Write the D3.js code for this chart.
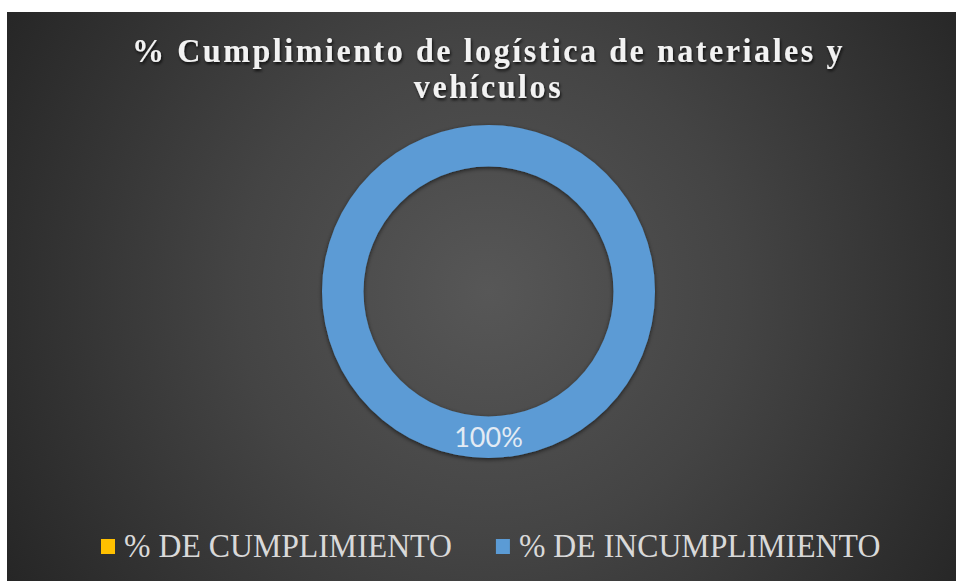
<!DOCTYPE html>
<html lang="es">
  <head>
    <meta charset="UTF-8" />
    <title>% Cumplimiento de logística de nateriales y vehículos</title>
    <script src="https://d3js.org/d3.v7.min.js"></script>
    <style>
      body {
        margin: 0;
        background: #fff;
      }
      svg {
        display: block;
      }
    </style>
  </head>
  <body>
    <div id="chart"></div>
    <script>
      // datos
      const categorias = ['% DE CUMPLIMIENTO', '% DE INCUMPLIMIENTO']
      const valores = [0, 100]
      const colores = ['#ffc000', '#5b9bd5']
      const tituloLineas = ['% Cumplimiento de logística de nateriales y', 'vehículos']

      const width = 956
      const height = 581
      const cx = 488.5
      const cy = 291.5
      const outerR = 166.5
      const innerR = 125

      const svg = d3.select('#chart').append('svg').attr('width', width).attr('height', height)

      const defs = svg.append('defs')
      const grad = defs
        .append('radialGradient')
        .attr('id', 'bg')
        .attr('gradientUnits', 'userSpaceOnUse')
        .attr('cx', cx)
        .attr('cy', cy)
        .attr('r', 560)
      grad.append('stop').attr('offset', '0%').attr('stop-color', '#575757')
      grad.append('stop').attr('offset', '45%').attr('stop-color', '#444444')
      grad.append('stop').attr('offset', '100%').attr('stop-color', '#262626')

      const sombra = defs.append('filter').attr('id', 'sombra').attr('x', '-10%').attr('y', '-10%').attr('width', '120%').attr('height', '120%')
      sombra.append('feDropShadow').attr('dx', 0).attr('dy', 1.5).attr('stdDeviation', 2).attr('flood-color', '#000').attr('flood-opacity', 0.6)

      const sombraTexto = defs.append('filter').attr('id', 'sombraTexto')
      sombraTexto.append('feDropShadow').attr('dx', 1).attr('dy', 2).attr('stdDeviation', 1.5).attr('flood-color', '#000').attr('flood-opacity', 0.8)

      svg.append('rect').attr('x', 7).attr('y', 12).attr('width', width - 7).attr('height', height - 12).attr('fill', 'url(#bg)')

      // titulo (letra alta y estrecha, como en el original)
      const titulo = svg
        .append('text')
        .attr('text-anchor', 'middle')
        .attr('font-family', '"Liberation Serif", "Times New Roman", serif')
        .attr('font-weight', 'bold')
        .attr('font-size', 33)
        .attr('fill', '#f2f2f2')
        .attr('filter', 'url(#sombraTexto)')
      const lineas = titulo
        .selectAll('tspan')
        .data(tituloLineas)
        .join('tspan')
        .attr('x', cx)
        .attr('y', (d, i) => 62 + i * 36)
        .attr('letter-spacing', 2.6)
        .text(d => d)
      const largos = lineas.nodes().map(n => n.getComputedTextLength())
      const ratio = 713 / largos[0]
      lineas.attr('textLength', (d, i) => largos[i] * ratio).attr('lengthAdjust', 'spacingAndGlyphs')

      // dona
      const pie = d3.pie().sort(null).value(d => d)
      const arc = d3.arc().innerRadius(innerR).outerRadius(outerR)
      const arcos = pie(valores)

      const g = svg.append('g').attr('transform', `translate(${cx},${cy})`)

      g.selectAll('path')
        .data(arcos)
        .join('path')
        .attr('d', arc)
        .attr('fill', (d, i) => colores[i])
        .attr('filter', 'url(#sombra)')

      g.selectAll('text.etiqueta')
        .data(arcos.filter(d => d.data > 0))
        .join('text')
        .attr('class', 'etiqueta')
        .attr('transform', d => `translate(${arc.centroid(d)})`)
        .attr('text-anchor', 'middle')
        .attr('dy', '0.37em')
        .attr('font-family', 'Lato, "Open Sans", sans-serif')
        .attr('font-size', 27)
        .attr('fill', '#e3ebf4')
        .text(d => d3.format('.0%')(d.data / d3.sum(valores)))

      // leyenda
      const leyenda = svg.append('g').attr('transform', 'translate(101,539)')
      let xPos = 0
      categorias.forEach((c, i) => {
        const item = leyenda.append('g').attr('transform', `translate(${xPos},0)`)
        item.append('rect').attr('width', 14).attr('height', 15).attr('fill', colores[i])
        const t = item
          .append('text')
          .attr('x', 23)
          .attr('y', 18)
          .attr('font-family', '"Liberation Serif", "Times New Roman", serif')
          .attr('font-size', 34)
          .attr('fill', '#d9d9d9')
          .text(c)
        const w = t.node().getComputedTextLength() * 0.935
        t.attr('textLength', w).attr('lengthAdjust', 'spacingAndGlyphs')
        xPos += 23 + w + 44
      })
    </script>
  </body>
</html>
